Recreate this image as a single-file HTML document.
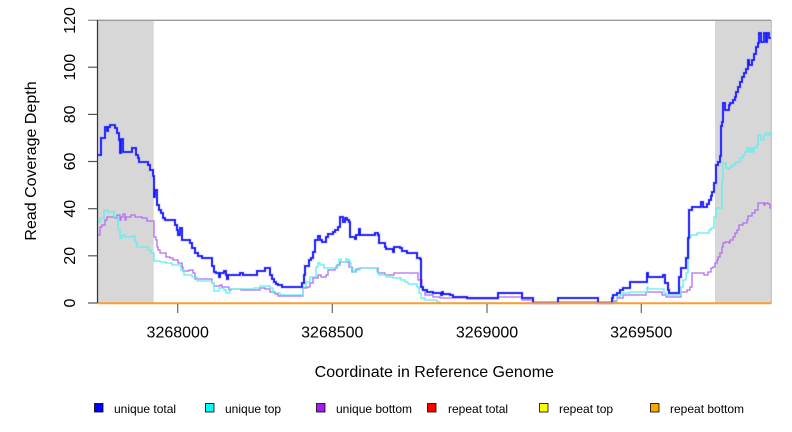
<!DOCTYPE html>
<html>
<head>
<meta charset="utf-8">
<style>
html,body{margin:0;padding:0;background:#fff;}
svg{display:block;}
text{font-family:"Liberation Sans",Arial,sans-serif;fill:#000;}
</style>
</head>
<body>
<svg width="792" height="432" viewBox="0 0 792 432" xmlns="http://www.w3.org/2000/svg">
<rect x="0" y="0" width="792" height="432" fill="#fff"/>
<!-- shaded regions -->
<rect x="97.7" y="20" width="56" height="283" fill="#d7d7d7"/>
<rect x="715" y="20" width="56.5" height="283" fill="#d7d7d7"/>
<line x1="771.3" y1="20" x2="771.3" y2="303" stroke="#b8b8b8" stroke-width="1"/>
<!-- top line -->
<line x1="88" y1="20.3" x2="771" y2="20.3" stroke="#9a9a9a" stroke-width="1.3"/>

<!-- unique bottom (purple) -->
<polyline fill="none" stroke="#b36cf0" stroke-width="1.3" points="97.7,235 100,235 100,227 102,227 102,225 105,225 105,220 107,220 107,217 115,217 115,218 117,218 117,215 120,215 120,220 121,220 121,217 123,217 123,214 125,214 125,220 126,220 126,217 131,217 131,215 135,215 135,217 142,217 142,218 147,218 147,221 154,221 154,237 156,237 156,240 157,240 157,247 158,247 158,250 160,250 160,253 166,253 166,257 170,257 170,258 173,258 173,260 178,260 178,263 182,263 182,267 183,267 183,271 189,271 189,270 193,270 193,273 195,273 195,279 212,279 212,283 214,283 214,286 220,286 220,285 222,285 222,287 229,287 229,290 231,290 231,289 241,289 241,290 260,290 260,288 265,288 265,289 270,289 270,292 275,292 275,294 278,294 278,296 303,296 303,288 307,288 307,287 310,287 310,283 313,283 313,278 318,278 318,275 321,275 321,277 326,277 326,275 328,275 328,270 335,270 335,268 337,268 337,265 340,265 340,262 349,262 349,267 352,267 352,272 356,272 356,269 360,269 360,268 378,268 378,273 385,273 385,275 394,275 394,273 418,273 418,280 422,280 422,290 425,290 425,295 433,295 433,297 440,297 440,298 467,298 467,299 498,299 498,297 522,297 522,300 533,300 533,302 612,302 612,301 617,301 617,298 623,298 623,295 646,295 646,292 662,292 662,295 666,295 666,297 681,297 681,292 687,292 687,290 690,290 690,287 692,287 692,273 704,273 704,275 708,275 708,272 711,272 711,268 713,268 713,267 715,267 715,263 717,263 717,260 718,260 718,257 720,257 720,253 722,253 722,247 723,247 723,243 725,243 725,242 729,242 729,243 730,243 730,240 733,240 733,237 735,237 735,233 737,233 737,230 739,230 739,225 743,225 743,223 747,223 747,220 748,220 748,216 752,216 752,213 755,213 755,210 758,210 758,203 764,203 764,205 765,205 765,203 768,203 768,204 770,204 770,208 771,208"/>

<!-- unique top (cyan) -->
<polyline fill="none" stroke="#5eeeee" stroke-width="1.3" points="97.7,222 100,222 100,218 104,218 104,210 108,210 108,212 114,212 114,217 118,217 118,230 120,230 120,238 122,238 122,235 125,235 125,237 133,237 133,236 135,236 135,242 137,242 137,247 148,247 148,250 151,250 151,253 154,253 154,261 160,261 160,262 166,262 166,263 172,263 172,265 181,265 181,270 184,270 184,275 192,275 192,277 197,277 197,281 212,281 212,283 214,283 214,291 219,291 219,288 224,288 224,290 226,290 226,293 230,293 230,289 254,289 254,288 260,288 260,286 270,286 270,288 273,288 273,293 280,293 280,295 303,295 303,287 306,287 306,282 310,282 310,277 316,277 316,267 318,267 318,263 320,263 320,265 324,265 324,268 336,268 336,266 339,266 339,259 341,259 341,262 346,262 346,259 348,259 348,260 350,260 350,263 351,263 351,268 353,268 353,272 355,272 355,270 359,270 359,268 377,268 377,272 379,272 379,275 386,275 386,277 393,277 393,278 401,278 401,280 405,280 405,282 408,282 408,284 417,284 417,287 419,287 419,293 421,293 421,298 425,298 425,300 437,300 437,302 440,302 440,303 612,303 612,302 617,302 617,297 620,297 620,295 623,295 623,293 630,293 630,292 647,292 647,287 648,287 648,289 664,289 664,293 666,293 666,295 681,295 681,287 683,287 683,280 686,280 686,273 688,273 688,258 689,258 689,237 691,237 691,235 697,235 697,233 709,233 709,230 711,230 711,228 714,228 714,217 716,217 716,208 722,208 722,182 723,182 723,163 726,163 726,168 728,168 728,169 730,169 730,167 732,167 732,165 735,165 735,163 737,163 737,162 740,162 740,158 743,158 743,155 745,155 745,152 747,152 747,148 749,148 749,152 751,152 751,148 753,148 753,152 754,152 754,148 756,148 756,147 757,147 757,145 758,145 758,135 761,135 761,140 764,140 764,135 766,135 766,133 768,133 768,135 770,135 770,133 771,133"/>

<!-- unique total (blue) -->
<polyline fill="none" stroke="#8a8aff" stroke-width="3" stroke-opacity="0.55" points="97.7,155 101,155 101,138 105,138 105,127 107,127 107,131 108,131 108,127 110,127 110,125 115,125 115,128 117,128 117,133 119,133 119,140 120,140 120,153 121,153 121,139 123,139 123,152 132,152 132,148 136,148 136,155 138,155 138,158 139,158 139,162 148,162 148,165 150,165 150,170 153,170 153,176 154,176 154,197 155,197 155,190 157,190 157,205 159,205 159,210 161,210 161,213 163,213 163,218 165,218 165,220 175,220 175,225 177,225 177,230 178,230 178,235 180,235 180,228 182,228 182,240 190,240 190,243 192,243 192,248 195,248 195,253 198,253 198,256 202,256 202,258 212,258 212,266 214,266 214,272 216,272 216,273 219,273 219,277 220,277 220,273 224,273 224,271 226,271 226,275 227,275 227,279 228,279 228,275 240,275 240,273 243,273 243,275 257,275 257,271 265,271 265,268 270,268 270,275 272,275 272,279 274,279 274,282 276,282 276,284 278,284 278,285 282,285 282,287 302,287 302,283 304,283 304,275 305,275 305,266 309,266 309,260 311,260 311,258 313,258 313,252 315,252 315,240 318,240 318,236 320,236 320,240 322,240 322,242 326,242 326,237 328,237 328,234 333,234 333,232 335,232 335,230 338,230 338,227 340,227 340,217 343,217 343,222 345,222 345,218 347,218 347,220 349,220 349,222 350,222 350,237 355,237 355,239 356,239 356,235 359,235 359,229 360,229 360,235 375,235 375,233 378,233 378,235 379,235 379,243 385,243 385,247 386,247 386,249 393,249 393,252 394,252 394,247 400,247 400,248 402,248 402,251 407,251 407,253 417,253 417,258 420,258 420,259 421,259 421,287 423,287 423,290 427,290 427,292 433,292 433,293 441,293 441,295 442,295 442,292 443,292 443,294 450,294 450,295 453,295 453,297 467,297 467,298 498,298 498,293 522,293 522,298 533,298 533,303 558,303 558,298 598,298 598,303 612,303 612,298 613,298 613,295 617,295 617,293 620,293 620,290 623,290 623,288 630,288 630,282 647,282 647,273 648,273 648,277 663,277 663,275 665,275 665,283 668,283 668,290 669,290 669,293 679,293 679,277 681,277 681,268 686,268 686,258 688,258 688,238 689,238 689,210 692,210 692,207 701,207 701,202 703,202 703,207 707,207 707,204 709,204 709,200 711,200 711,196 712,196 712,192 714,192 714,183 716,183 716,165 718,165 718,162 720,162 720,156 721,156 721,126 722,126 722,122 723,122 723,103 725,103 725,110 729,110 729,105 730,105 730,103 733,103 733,100 735,100 735,97 736,97 736,92 738,92 738,87 740,87 740,82 742,82 742,77 744,77 744,73 746,73 746,69 748,69 748,60 749,60 749,65 752,65 752,60 754,60 754,54 756,54 756,47 758,47 758,43 759,43 759,33 761,33 761,42 764,42 764,33 766,33 766,42 767,42 767,33 769,33 769,38 771,38"/>
<polyline fill="none" stroke="#1414ff" stroke-width="1.6" points="97.7,155 101,155 101,138 105,138 105,127 107,127 107,131 108,131 108,127 110,127 110,125 115,125 115,128 117,128 117,133 119,133 119,140 120,140 120,153 121,153 121,139 123,139 123,152 132,152 132,148 136,148 136,155 138,155 138,158 139,158 139,162 148,162 148,165 150,165 150,170 153,170 153,176 154,176 154,197 155,197 155,190 157,190 157,205 159,205 159,210 161,210 161,213 163,213 163,218 165,218 165,220 175,220 175,225 177,225 177,230 178,230 178,235 180,235 180,228 182,228 182,240 190,240 190,243 192,243 192,248 195,248 195,253 198,253 198,256 202,256 202,258 212,258 212,266 214,266 214,272 216,272 216,273 219,273 219,277 220,277 220,273 224,273 224,271 226,271 226,275 227,275 227,279 228,279 228,275 240,275 240,273 243,273 243,275 257,275 257,271 265,271 265,268 270,268 270,275 272,275 272,279 274,279 274,282 276,282 276,284 278,284 278,285 282,285 282,287 302,287 302,283 304,283 304,275 305,275 305,266 309,266 309,260 311,260 311,258 313,258 313,252 315,252 315,240 318,240 318,236 320,236 320,240 322,240 322,242 326,242 326,237 328,237 328,234 333,234 333,232 335,232 335,230 338,230 338,227 340,227 340,217 343,217 343,222 345,222 345,218 347,218 347,220 349,220 349,222 350,222 350,237 355,237 355,239 356,239 356,235 359,235 359,229 360,229 360,235 375,235 375,233 378,233 378,235 379,235 379,243 385,243 385,247 386,247 386,249 393,249 393,252 394,252 394,247 400,247 400,248 402,248 402,251 407,251 407,253 417,253 417,258 420,258 420,259 421,259 421,287 423,287 423,290 427,290 427,292 433,292 433,293 441,293 441,295 442,295 442,292 443,292 443,294 450,294 450,295 453,295 453,297 467,297 467,298 498,298 498,293 522,293 522,298 533,298 533,303 558,303 558,298 598,298 598,303 612,303 612,298 613,298 613,295 617,295 617,293 620,293 620,290 623,290 623,288 630,288 630,282 647,282 647,273 648,273 648,277 663,277 663,275 665,275 665,283 668,283 668,290 669,290 669,293 679,293 679,277 681,277 681,268 686,268 686,258 688,258 688,238 689,238 689,210 692,210 692,207 701,207 701,202 703,202 703,207 707,207 707,204 709,204 709,200 711,200 711,196 712,196 712,192 714,192 714,183 716,183 716,165 718,165 718,162 720,162 720,156 721,156 721,126 722,126 722,122 723,122 723,103 725,103 725,110 729,110 729,105 730,105 730,103 733,103 733,100 735,100 735,97 736,97 736,92 738,92 738,87 740,87 740,82 742,82 742,77 744,77 744,73 746,73 746,69 748,69 748,60 749,60 749,65 752,65 752,60 754,60 754,54 756,54 756,47 758,47 758,43 759,43 759,33 761,33 761,42 764,42 764,33 766,33 766,42 767,42 767,33 769,33 769,38 771,38"/>

<!-- repeat series at zero -->
<line x1="97.7" y1="303.3" x2="771.5" y2="303.3" stroke="#ff9b30" stroke-width="2"/>

<!-- y axis -->
<line x1="97.5" y1="20" x2="97.5" y2="303" stroke="#333" stroke-width="1.2"/>
<g stroke="#555" stroke-width="1.2">
<line x1="88" y1="303" x2="97.5" y2="303"/>
<line x1="88" y1="255.8" x2="97.5" y2="255.8"/>
<line x1="88" y1="208.7" x2="97.5" y2="208.7"/>
<line x1="88" y1="161.5" x2="97.5" y2="161.5"/>
<line x1="88" y1="114.4" x2="97.5" y2="114.4"/>
<line x1="88" y1="67.2" x2="97.5" y2="67.2"/>
</g>
<g font-size="16" text-anchor="middle">
<text transform="translate(75,303) rotate(-90)">0</text>
<text transform="translate(75,255.8) rotate(-90)">20</text>
<text transform="translate(75,208.7) rotate(-90)">40</text>
<text transform="translate(75,161.5) rotate(-90)">60</text>
<text transform="translate(75,114.4) rotate(-90)">80</text>
<text transform="translate(75,67.2) rotate(-90)">100</text>
<text transform="translate(75,20.5) rotate(-90)">120</text>
<text transform="translate(36,161) rotate(-90)">Read Coverage Depth</text>
</g>

<!-- x axis ticks -->
<g stroke="#666" stroke-width="1.2">
<line x1="177.7" y1="304" x2="177.7" y2="313"/>
<line x1="332.3" y1="304" x2="332.3" y2="313"/>
<line x1="487" y1="304" x2="487" y2="313"/>
<line x1="641.3" y1="304" x2="641.3" y2="313"/>
</g>
<g font-size="16" text-anchor="middle">
<text x="177.7" y="337.7">3268000</text>
<text x="332.3" y="337.7">3268500</text>
<text x="487" y="337.7">3269000</text>
<text x="641.3" y="337.7">3269500</text>
<text x="434.3" y="377">Coordinate in Reference Genome</text>
</g>

<!-- legend -->
<g stroke="#000" stroke-width="0.8">
<rect x="94.5" y="403.5" width="8.5" height="8.5" fill="#0000ff"/>
<rect x="205.5" y="403.5" width="8.5" height="8.5" fill="#00ffff"/>
<rect x="316.5" y="403.5" width="8.5" height="8.5" fill="#a020f0"/>
<rect x="427.5" y="403.5" width="8.5" height="8.5" fill="#ff0000"/>
<rect x="539.5" y="403.5" width="8.5" height="8.5" fill="#ffff00"/>
<rect x="650.5" y="403.5" width="8.5" height="8.5" fill="#ffa500"/>
</g>
<g font-size="12">
<text x="114" y="413">unique total</text>
<text x="225" y="413">unique top</text>
<text x="336" y="413">unique bottom</text>
<text x="448" y="413">repeat total</text>
<text x="559" y="413">repeat top</text>
<text x="670" y="413">repeat bottom</text>
</g>
</svg>
</body>
</html>
